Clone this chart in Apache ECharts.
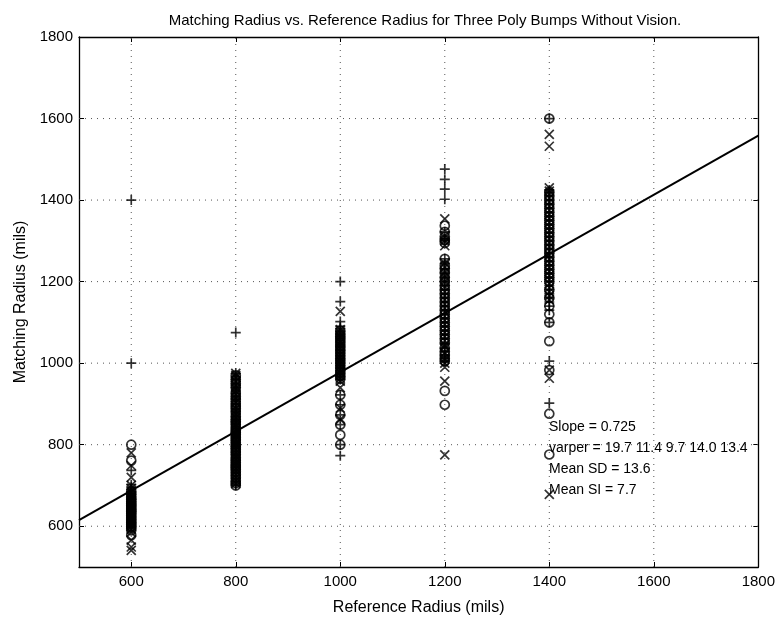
<!DOCTYPE html>
<html>
<head>
<meta charset="utf-8">
<script src="https://cdn.jsdelivr.net/npm/echarts@6/dist/echarts.min.js"></script>
<style>
  html, body { margin: 0; padding: 0; background: #fff; }
  #chart { width: 778px; height: 621px; }
</style>
</head>
<body>
<div id="chart"></div>
<script>
// reference radius columns
const refX = [600, 800, 1000, 1200, 1400]

// matching radius per column, one list per marker
const plusY = [
  [1400, 1000, 737, 702, 695, 690, 684, 680, 676, 672, 668, 665, 660, 655, 651, 648, 644, 640, 635, 630, 626, 622, 617, 612, 608, 605, 601, 598],
  [1075, 975, 967, 960, 955, 950, 945, 940, 932, 925, 918, 912, 906, 900, 894, 888, 881, 875, 868, 862, 856, 850, 844, 838, 831, 825, 818, 812, 806, 800, 795, 790, 782, 775, 768, 762, 756, 750, 745, 740, 732, 725, 718, 710, 705, 700],
  [1200, 1151, 1102, 1090, 1085, 1078, 1070, 1065, 1060, 1055, 1050, 1045, 1040, 1032, 1025, 1018, 1012, 1006, 1000, 994, 988, 982, 975, 968, 960, 922, 898, 873, 849, 800, 773],
  [1476, 1451, 1427, 1402, 1322, 1305, 1300, 1256, 1245, 1232, 1220, 1210, 1200, 1190, 1180, 1170, 1160, 1150, 1140, 1130, 1120, 1110, 1100, 1090, 1080, 1070, 1060, 1048, 1037, 1028, 1020, 1012, 1005],
  [1600, 1425, 1418, 1410, 1400, 1390, 1380, 1370, 1360, 1350, 1340, 1330, 1320, 1310, 1300, 1290, 1280, 1270, 1260, 1250, 1240, 1230, 1220, 1210, 1200, 1190, 1180, 1170, 1160, 1150, 1140, 1130, 1100, 1005, 902]
]
const circleY = [
  [800, 761, 685, 678, 670, 665, 660, 655, 650, 645, 640, 636, 632, 626, 620, 615, 610, 605, 600, 595, 590, 578],
  [970, 960, 950, 940, 927, 918, 910, 902, 895, 888, 880, 870, 862, 856, 850, 842, 835, 830, 825, 818, 812, 806, 800, 794, 788, 782, 776, 768, 762, 756, 750, 745, 740, 734, 727, 720, 712, 706, 700],
  [1080, 1072, 1065, 1058, 1050, 1042, 1035, 1028, 1020, 1012, 1005, 998, 990, 982, 975, 968, 962, 922, 898, 873, 849, 824, 800],
  [1337, 1322, 1310, 1302, 1295, 1256, 1240, 1232, 1222, 1210, 1200, 1190, 1180, 1170, 1160, 1150, 1140, 1130, 1120, 1110, 1100, 1090, 1080, 1070, 1060, 1050, 1037, 1028, 1020, 1012, 1005, 932, 898],
  [1600, 1420, 1410, 1400, 1390, 1380, 1370, 1360, 1350, 1340, 1330, 1320, 1310, 1300, 1290, 1280, 1270, 1260, 1250, 1240, 1230, 1220, 1210, 1200, 1180, 1160, 1140, 1120, 1100, 1054, 983, 876, 776]
]
const crossY = [
  [780, 749, 720, 700, 693, 688, 682, 675, 668, 662, 657, 652, 648, 645, 640, 635, 630, 625, 620, 615, 608, 600, 593, 585, 566, 549, 541],
  [975, 970, 965, 955, 945, 938, 930, 922, 915, 905, 890, 882, 875, 867, 860, 852, 845, 837, 830, 825, 820, 812, 805, 800, 795, 787, 780, 772, 765, 757, 750, 742, 735, 727, 720, 712, 705],
  [1127, 1082, 1075, 1068, 1062, 1053, 1045, 1038, 1030, 1022, 1015, 1008, 1000, 992, 985, 978, 970, 963, 956, 940, 890, 862],
  [1354, 1312, 1300, 1288, 1245, 1235, 1222, 1212, 1200, 1188, 1175, 1165, 1155, 1145, 1135, 1125, 1115, 1105, 1095, 1085, 1075, 1065, 1055, 1045, 1040, 1025, 1010, 1000, 990, 956, 775],
  [1561, 1532, 1430, 1422, 1415, 1405, 1395, 1385, 1375, 1365, 1355, 1345, 1335, 1325, 1315, 1305, 1295, 1285, 1275, 1265, 1255, 1245, 1235, 1225, 1215, 1205, 1195, 1185, 1175, 1165, 1155, 983, 963, 678]
]

// fitted line end points
const fitX = [500, 1800]
const fitY = [615, 1558]

// axis ticks
const xTicks = [600, 800, 1000, 1200, 1400, 1600, 1800]
const yTicks = [600, 800, 1000, 1200, 1400, 1600, 1800]

const notes = [
  'Slope = 0.725',
  'varper = 19.7 11.4 9.7 14.0 13.4',
  'Mean SD = 13.6',
  'Mean SI = 7.7'
]

const FONT = 'Liberation Sans, Arial, Helvetica, sans-serif'

const toPairs = cols => {
  const out = []
  cols.forEach((vals, i) => vals.forEach(v => out.push([refX[i], v])))
  return out
}

const chart = echarts.init(document.getElementById('chart'))

const gridStyle = { color: '#555', width: 1, type: [1, 5] }
const tick = { show: true, inside: true, length: 5, lineStyle: { color: '#000' } }
const axisLine = { show: true, onZero: false, lineStyle: { color: '#000', width: 1.3 } }

const markStyle = { color: 'transparent', borderColor: '#000', borderWidth: 1.7 }

const options = {
  animation: false,
  backgroundColor: '#fff',
  textStyle: { fontFamily: FONT },
  title: {
    text: 'Matching Radius vs. Reference Radius for Three Poly Bumps Without Vision.',
    left: 420,
    top: 8,
    textAlign: 'center',
    textStyle: { fontFamily: FONT, fontSize: 15, fontWeight: 'normal', color: '#000' }
  },
  grid: { left: 79, right: 17, top: 37, bottom: 51 },
  xAxis: [
    {
      type: 'value',
      min: 500,
      max: 1800,
      interval: 100,
      name: 'Reference Radius (mils)',
      nameLocation: 'middle',
      nameGap: 33,
      nameTextStyle: { fontFamily: FONT, fontSize: 16, color: '#000' },
      axisLine,
      axisTick: { ...tick, customValues: xTicks },
      axisLabel: {
        fontFamily: FONT, fontSize: 15, color: '#000', margin: 7,
        customValues: xTicks,
        formatter: v => String(v)
      },
      splitLine: { show: false }
    },
    {
      type: 'value',
      position: 'top',
      min: 500,
      max: 1800,
      interval: 100,
      axisLine,
      axisTick: { ...tick, customValues: xTicks },
      axisLabel: { show: false },
      splitLine: { show: false }
    }
  ],
  yAxis: [
    {
      type: 'value',
      min: 500,
      max: 1800,
      interval: 100,
      name: 'Matching Radius (mils)',
      nameLocation: 'middle',
      nameGap: 50,
      nameTextStyle: { fontFamily: FONT, fontSize: 16, color: '#000' },
      axisLine,
      axisTick: { ...tick, customValues: yTicks },
      axisLabel: {
        fontFamily: FONT, fontSize: 15, color: '#000', margin: 6,
        customValues: yTicks,
        formatter: v => String(v)
      },
      splitLine: { show: false }
    },
    {
      type: 'value',
      position: 'right',
      min: 500,
      max: 1800,
      interval: 100,
      axisLine,
      axisTick: { ...tick, customValues: yTicks },
      axisLabel: { show: false },
      splitLine: { show: false }
    }
  ],
  graphic: notes.map((t, i) => ({
    type: 'text',
    left: 549,
    top: 420 + i * 21,
    z: 100,
    style: { text: t, fontFamily: FONT, fontSize: 14, fill: '#000' }
  })),
  series: [
    // dotted grid through the labelled ticks
    ...xTicks.slice(0, -1).map(x => ({
      type: 'line',
      data: [[x, 500], [x, 1800]],
      symbol: 'none',
      silent: true,
      lineStyle: gridStyle,
      z: 1
    })),
    ...yTicks.slice(0, -1).map(y => ({
      type: 'line',
      data: [[500, y], [1800, y]],
      symbol: 'none',
      silent: true,
      lineStyle: gridStyle,
      z: 1
    })),
    {
      type: 'scatter',
      symbol: 'path://M0 5L10 5M5 0L5 10',
      symbolSize: 10,
      itemStyle: markStyle,
      data: toPairs(plusY),
      z: 3
    },
    {
      type: 'scatter',
      symbol: 'circle',
      symbolSize: 9,
      itemStyle: markStyle,
      data: toPairs(circleY),
      z: 3
    },
    {
      type: 'scatter',
      symbol: 'path://M0 0L10 10M10 0L0 10',
      symbolSize: 9,
      itemStyle: markStyle,
      data: toPairs(crossY),
      z: 3
    },
    {
      type: 'line',
      data: fitX.map((x, i) => [x, fitY[i]]),
      symbol: 'none',
      lineStyle: { color: '#000', width: 2 },
      z: 4
    }
  ]
}
chart.setOption(options)
</script>
</body>
</html>
